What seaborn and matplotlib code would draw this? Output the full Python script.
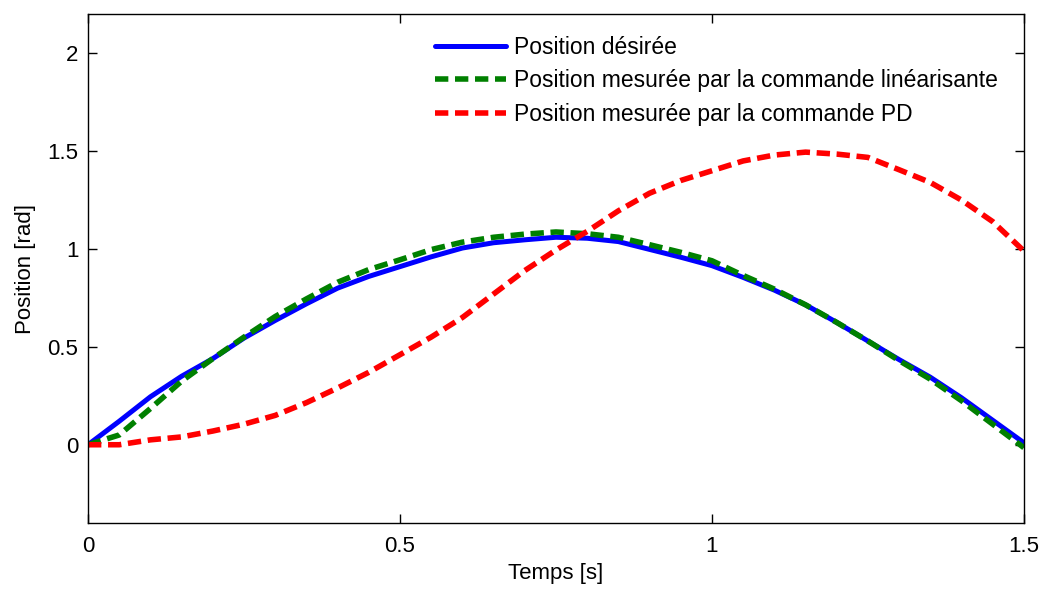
import numpy as np
import pandas as pd
import matplotlib
matplotlib.use("Agg")
import matplotlib.pyplot as plt
import seaborn as sns

# Time base [s]
temps = [0.00, 0.05, 0.10, 0.15, 0.20, 0.25, 0.30, 0.35, 0.40, 0.45,
         0.50, 0.55, 0.60, 0.65, 0.70, 0.75, 0.80, 0.85, 0.90, 0.95,
         1.00, 1.05, 1.10, 1.15, 1.20, 1.25, 1.30, 1.35, 1.40, 1.45, 1.50]

# Desired trajectory [rad]
pos_desiree = [0.000, 0.120, 0.245, 0.350, 0.440, 0.545, 0.635, 0.720, 0.800, 0.860,
               0.910, 0.960, 1.005, 1.032, 1.047, 1.060, 1.055, 1.038, 0.998, 0.958,
               0.915, 0.855, 0.790, 0.715, 0.625, 0.530, 0.435, 0.345, 0.240, 0.125, 0.010]

# Measured position, linearising control [rad]
pos_lineaire = [0.000, 0.050, 0.185, 0.325, 0.440, 0.550, 0.655, 0.745, 0.830, 0.895,
                0.945, 0.997, 1.035, 1.060, 1.076, 1.087, 1.078, 1.060, 1.022, 0.983,
                0.940, 0.865, 0.795, 0.715, 0.625, 0.530, 0.430, 0.335, 0.225, 0.105, -0.015]

# Measured position, PD control [rad]
pos_pd = [0.000, 0.000, 0.025, 0.040, 0.070, 0.105, 0.150, 0.215, 0.290, 0.370,
          0.460, 0.550, 0.650, 0.770, 0.890, 0.995, 1.090, 1.195, 1.285, 1.350,
          1.400, 1.450, 1.480, 1.495, 1.485, 1.468, 1.405, 1.340, 1.250, 1.140, 0.990]

labels = ["Position désirée",
          "Position mesurée par la commande linéarisante",
          "Position mesurée par la commande PD"]

sns.set_style("ticks")
plt.rcParams["font.family"] = ["Liberation Sans", "DejaVu Sans"]
plt.rcParams["text.color"] = "black"
plt.rcParams["axes.labelcolor"] = "black"

fig = plt.figure(figsize=(10.48, 5.89), dpi=100)
ax = fig.add_axes([0.084, 0.112, 0.893, 0.864])

sns.lineplot(x=temps, y=pos_desiree, ax=ax, color="#0000FF", lw=3.6,
             label=labels[0])
sns.lineplot(x=temps, y=pos_lineaire, ax=ax, color="#008000", lw=4.0,
             label=labels[1])
sns.lineplot(x=temps, y=pos_pd, ax=ax, color="#FF0000", lw=4.0,
             label=labels[2])
for ln in ax.lines[1:3]:
    ln.set_dashes((2.4, 1.2))
    ln.set_dash_capstyle("butt")

ax.set_xlim(0, 1.5)
ax.set_ylim(-0.4, 2.2)
ax.set_xticks([0, 0.5, 1, 1.5])
ax.set_xticklabels(["0", "0.5", "1", "1.5"])
ax.set_yticks([0, 0.5, 1, 1.5, 2])
ax.set_yticklabels(["0", "0.5", "1", "1.5", "2"])
ax.tick_params(direction="in", length=6.5, width=1, top=True, right=True,
               labelsize=16, colors="black", pad=7)
ax.tick_params(axis="x", pad=9)
for s in ax.spines.values():
    s.set_visible(True)
    s.set_linewidth(1.0)
    s.set_color("black")

ax.set_xlabel("Temps [s]", fontsize=16, labelpad=5)
ax.set_ylabel("Position [rad]", fontsize=16, labelpad=8)

leg = ax.legend(loc="upper left", bbox_to_anchor=(0.371, 0.957), frameon=False,
                fontsize=16.5, handlelength=3.1, handletextpad=0.35,
                labelspacing=0.45, borderaxespad=0, borderpad=0)
for h in leg.get_lines()[1:]:
    h.set_dashes((2.4, 1.2))

fig.savefig("out.png", dpi=100)
